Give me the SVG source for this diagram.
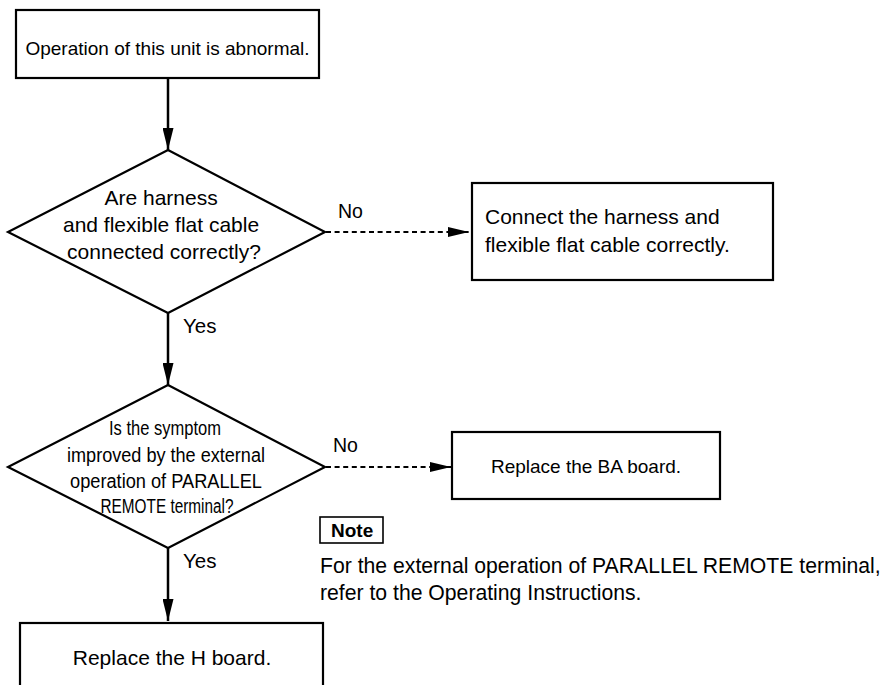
<svg xmlns="http://www.w3.org/2000/svg" width="890" height="685" viewBox="0 0 890 685">
<style>
  .box { fill: #fff; stroke: #000; stroke-width: 2.2; }
  .t { font-family: "Liberation Sans", Arial, sans-serif; fill: #000; }
  .flow { stroke: #000; stroke-width: 2.5; fill: none; }
  .dash { stroke: #000; stroke-width: 2.2; fill: none; stroke-dasharray: 5 3.6; }
</style>
<defs>
  <marker id="av" viewBox="0 0 22 11" refX="22" refY="5.5" markerWidth="22" markerHeight="11" markerUnits="userSpaceOnUse" orient="auto">
    <path d="M0,0 L22,5.5 L0,11 z" fill="#000"/>
  </marker>
  <marker id="ah" viewBox="0 0 21 10" refX="21" refY="5" markerWidth="21" markerHeight="10" markerUnits="userSpaceOnUse" orient="auto">
    <path d="M0,0 L21,5 L0,10 z" fill="#000"/>
  </marker>
</defs>
<rect width="890" height="685" fill="#fff"/>

<g id="connectors">
  <line class="flow" x1="168" y1="78" x2="168" y2="150" marker-end="url(#av)"/>
  <line class="dash" x1="326" y1="232" x2="469" y2="232" marker-end="url(#ah)"/>
  <text class="t" x="338" y="218" font-size="19.5">No</text>
  <line class="flow" x1="168" y1="313" x2="168" y2="385" marker-end="url(#av)"/>
  <text class="t" x="183" y="333" font-size="20.5">Yes</text>
  <line class="dash" x1="326" y1="467" x2="451" y2="467" marker-end="url(#ah)"/>
  <text class="t" x="333" y="452" font-size="19.5">No</text>
  <line class="flow" x1="168" y1="548" x2="168" y2="621" marker-end="url(#av)"/>
  <text class="t" x="183" y="568" font-size="20.5">Yes</text>
</g>

<g id="start">
  <rect class="box" x="16" y="10" width="303" height="68"/>
  <text class="t" x="167.5" y="55" font-size="19" text-anchor="middle">Operation of this unit is abnormal.</text>
</g>

<g id="decision1">
  <polygon class="box" points="168,150 325,232 168,313 8,232"/>
  <text class="t" font-size="21" text-anchor="middle">
    <tspan x="164" y="205">Are harness</tspan>
    <tspan x="164" y="232">and flexible flat cable</tspan>
    <tspan x="164" y="259">connected correctly?</tspan>
  </text>
</g>

<g id="fix-cable">
  <rect class="box" x="472" y="183" width="301" height="97"/>
  <text class="t" font-size="21">
    <tspan x="485" y="224">Connect the harness and</tspan>
    <tspan x="485" y="252">flexible flat cable correctly.</tspan>
  </text>
</g>

<g id="decision2">
  <polygon class="box" points="168,385 325,467 168,548 8,467"/>
  <g class="t" font-size="19.5" text-anchor="middle">
    <text x="165" y="435" textLength="112" lengthAdjust="spacingAndGlyphs">Is the symptom</text>
    <text x="166" y="462" textLength="198" lengthAdjust="spacingAndGlyphs">improved by the external</text>
    <text x="166" y="488" textLength="192" lengthAdjust="spacingAndGlyphs">operation of PARALLEL</text>
    <text x="167" y="513" textLength="133" lengthAdjust="spacingAndGlyphs">REMOTE terminal?</text>
  </g>
</g>

<g id="replace-ba">
  <rect class="box" x="452" y="432" width="268" height="67"/>
  <text class="t" x="586" y="473" font-size="19" text-anchor="middle">Replace the BA board.</text>
</g>

<g id="note">
  <rect x="320" y="517" width="63" height="26" fill="#fff" stroke="#000" stroke-width="1.6"/>
  <text class="t" x="331" y="537" font-size="19" font-weight="bold">Note</text>
  <text class="t" font-size="21.2">
    <tspan x="320" y="573">For the external operation of PARALLEL REMOTE terminal,</tspan>
    <tspan x="320" y="600">refer to the Operating Instructions.</tspan>
  </text>
</g>

<g id="replace-h">
  <rect class="box" x="20" y="623" width="303" height="80"/>
  <text class="t" x="172" y="665" font-size="21" text-anchor="middle">Replace the H board.</text>
</g>
</svg>
